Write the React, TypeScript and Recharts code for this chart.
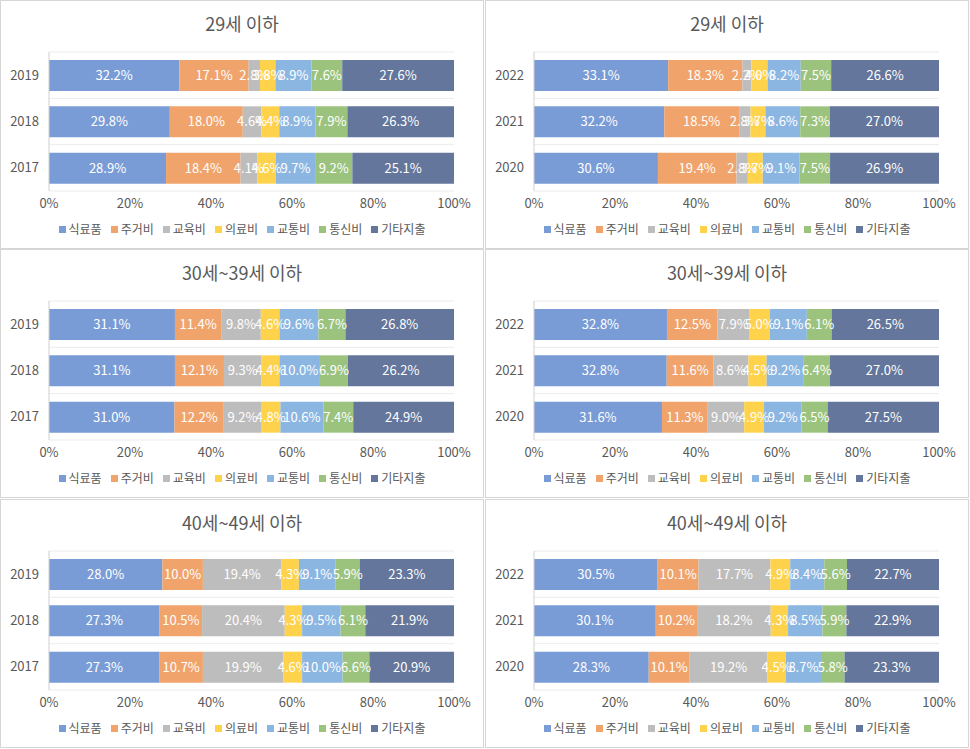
import React from 'react';
import { BarChart, Bar, XAxis, YAxis, CartesianGrid, LabelList } from 'recharts';

const categories = ['식료품', '주거비', '교육비', '의료비', '교통비', '통신비', '기타지출'];
const colors = ['#7A9CD6', '#F0A46C', '#BDBDBD', '#FFD24C', '#8CB6E2', '#9BC37E', '#64769B'];

const yearsEarly = ['2017', '2018', '2019'];
const yearsLate = ['2020', '2021', '2022'];
const xTicks = [0, 0.2, 0.4, 0.6, 0.8, 1];

// rows follow the years arrays, columns follow categories
const under29Early = [
  [28.9, 18.4, 4.1, 4.6, 9.7, 9.2, 25.1],
  [29.8, 18.0, 4.6, 4.4, 8.9, 7.9, 26.3],
  [32.2, 17.1, 2.8, 3.8, 8.9, 7.6, 27.6],
];
const under29Late = [
  [30.6, 19.4, 2.8, 3.7, 9.1, 7.5, 26.9],
  [32.2, 18.5, 2.8, 3.7, 8.6, 7.3, 27.0],
  [33.1, 18.3, 2.2, 4.0, 8.2, 7.5, 26.6],
];
const age30sEarly = [
  [31.0, 12.2, 9.2, 4.8, 10.6, 7.4, 24.9],
  [31.1, 12.1, 9.3, 4.4, 10.0, 6.9, 26.2],
  [31.1, 11.4, 9.8, 4.6, 9.6, 6.7, 26.8],
];
const age30sLate = [
  [31.6, 11.3, 9.0, 4.9, 9.2, 6.5, 27.5],
  [32.8, 11.6, 8.6, 4.5, 9.2, 6.4, 27.0],
  [32.8, 12.5, 7.9, 5.0, 9.1, 6.1, 26.5],
];
const age40sEarly = [
  [27.3, 10.7, 19.9, 4.6, 10.0, 6.6, 20.9],
  [27.3, 10.5, 20.4, 4.3, 9.5, 6.1, 21.9],
  [28.0, 10.0, 19.4, 4.3, 9.1, 5.9, 23.3],
];
const age40sLate = [
  [28.3, 10.1, 19.2, 4.5, 8.7, 5.8, 23.3],
  [30.1, 10.2, 18.2, 4.3, 8.5, 5.9, 22.9],
  [30.5, 10.1, 17.7, 4.9, 8.4, 5.6, 22.7],
];

const FONT = "'Noto Sans CJK KR', 'Noto Sans', sans-serif";
const TEXT = '#595959';
const W = 482;
const H = 247;

function buildRows(years: string[], values: number[][]) {
  return years.map((y, i) => {
    const row: any = { year: y };
    categories.forEach((c, j) => {
      row[c] = values[i][j];
    });
    return row;
  });
}

function Panel({ title, years, values, left, top }: { title: string; years: string[]; values: number[][]; left: number; top: number }) {
  const data = buildRows(years, values);
  return (
    <div style={{ position: 'absolute', left, top, width: W, height: H, border: '1px solid #d6d6d6', background: '#fff', fontFamily: FONT }}>
      <div style={{ position: 'absolute', top: 9, left: 0, width: W, textAlign: 'center', fontSize: 18, color: TEXT, lineHeight: '26px' }}>
        {title}
      </div>
      <BarChart
        width={W}
        height={H}
        data={data}
        layout="vertical"
        stackOffset="expand"
        barSize={31}
        margin={{ top: 51, right: 29, left: 0, bottom: 0 }}
      >
        <CartesianGrid
          vertical={false}
          stroke="#ececec"
          horizontalCoordinatesGenerator={({ offset }: any) => [0, 1, 2, 3].map((k) => offset.top + (offset.height * k) / 3)}
        />
        <XAxis
          type="number"
          domain={[0, 1]}
          ticks={xTicks}
          tickFormatter={(v: number) => `${Math.round(v * 100)}%`}
          axisLine={false}
          tickLine={false}
          tickSize={0}
          tickMargin={8}
          height={57}
          interval={0}
          tick={{ fill: TEXT, fontSize: 13, fontFamily: FONT }}
        />
        <YAxis
          type="category"
          dataKey="year"
          reversed
          width={48}
          axisLine={{ stroke: '#cfcfcf' }}
          tickLine={false}
          tickSize={0}
          tickMargin={10}
          tick={{ fill: TEXT, fontSize: 13, fontFamily: FONT }}
        />
        {categories.map((c, j) => (
          <Bar key={c} dataKey={c} stackId="s" fill={colors[j]} isAnimationActive={false}>
            <LabelList
              dataKey={c}
              position="center"
              fill="#fff"
              fontSize={13}
              fontFamily={FONT}
              formatter={(v: any) => `${Number(v).toFixed(1)}%`}
            />
          </Bar>
        ))}
      </BarChart>
      <div style={{ position: 'absolute', top: 219, left: 0, width: W, display: 'flex', justifyContent: 'center', fontSize: 12, color: TEXT, lineHeight: '18px' }}>
        {categories.map((c, j) => (
          <div key={c} style={{ display: 'flex', alignItems: 'center', marginRight: j === categories.length - 1 ? 0 : 9 }}>
            <span style={{ display: 'inline-block', width: 7, height: 7, background: colors[j], marginRight: 3 }} />
            <span>{c}</span>
          </div>
        ))}
      </div>
    </div>
  );
}

export default function App() {
  return (
    <div style={{ position: 'absolute', left: 0, top: 0, width: 970, height: 749, background: '#fff' }}>
      <Panel title="29세 이하" years={yearsEarly} values={under29Early} left={0} top={0} />
      <Panel title="29세 이하" years={yearsLate} values={under29Late} left={485} top={0} />
      <Panel title="30세~39세 이하" years={yearsEarly} values={age30sEarly} left={0} top={249} />
      <Panel title="30세~39세 이하" years={yearsLate} values={age30sLate} left={485} top={249} />
      <Panel title="40세~49세 이하" years={yearsEarly} values={age40sEarly} left={0} top={499} />
      <Panel title="40세~49세 이하" years={yearsLate} values={age40sLate} left={485} top={499} />
    </div>
  );
}
